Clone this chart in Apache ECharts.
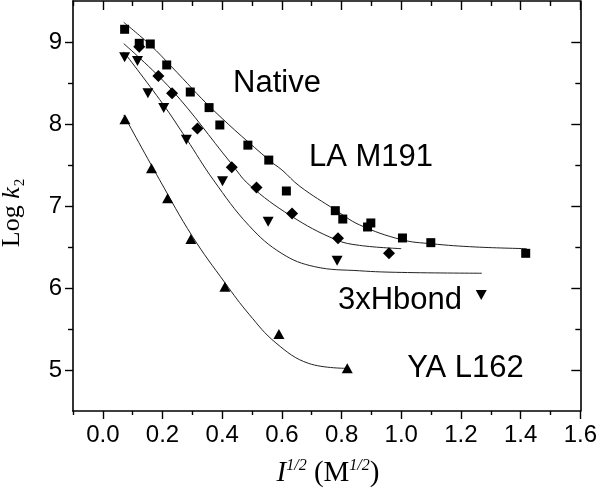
<!DOCTYPE html>
<html><head><meta charset="utf-8">
<script src="https://cdn.jsdelivr.net/npm/echarts@6/dist/echarts.min.js"></script>
<style>html,body{margin:0;padding:0;background:#fff}#c{width:600px;height:495px}</style>
</head><body><div id="c"></div>
<script>
// measured data points (x = I^1/2, y = log k2)
const nativePts = [[0.073,9.155],[0.122,8.984],[0.159,8.976],[0.214,8.72],[0.293,8.39],[0.356,8.2],[0.392,7.988],[0.486,7.742],[0.556,7.56],[0.615,7.183],[0.779,6.943],[0.804,6.841],[0.887,6.744],[0.898,6.793],[1.004,6.61],[1.099,6.553],[1.417,6.423]];
const laPts = [[0.122,8.943],[0.186,8.585],[0.232,8.376],[0.317,7.945],[0.432,7.474],[0.515,7.225],[0.634,6.91],[0.788,6.606],[0.959,6.423]];
const hbondPts = [[0.073,8.813],[0.116,8.768],[0.151,8.374],[0.204,8.195],[0.28,7.808],[0.401,7.302],[0.554,6.809],[0.785,6.333],[1.268,5.915]];
const yaPts = [[0.074,8.057],[0.163,7.46],[0.217,7.094],[0.295,6.598],[0.409,6.016],[0.59,5.439],[0.819,5.02]];

// fitted curves
const nativeFit = [[0.07,9.24],[0.16,8.96],[0.23,8.70],[0.37,8.17],[0.56,7.55],[0.60,7.44],[0.66,7.24],[0.78,6.95],[0.86,6.77],[1.0,6.59],[1.1,6.54],[1.25,6.50],[1.42,6.48]];
const laFit = [[0.07,8.98],[0.23,8.42],[0.43,7.52],[0.49,7.26],[0.63,6.88],[0.78,6.59],[0.86,6.52],[1.0,6.48]];
const hbondFit = [[0.07,8.88],[0.2,8.25],[0.28,7.82],[0.37,7.32],[0.49,6.76],[0.60,6.42],[0.71,6.26],[0.86,6.21],[1.0,6.19],[1.27,6.18]];
const yaFit = [[0.07,8.11],[0.19,7.32],[0.30,6.63],[0.41,6.06],[0.49,5.68],[0.58,5.33],[0.69,5.08],[0.82,5.02]];

const xMajorTicks = [0,0.2,0.4,0.6,0.8,1.0,1.2,1.4,1.6];
const xMinorTicks = [-0.1,0.1,0.3,0.5,0.7,0.9,1.1,1.3,1.5];
const yMajorTicks = [5,6,7,8,9];
const yMinorTicks = [5.5,6.5,7.5,8.5];

const labels = [
  {text:'Native', x:277, y:83.5},
  {text:'LA M191', x:371, y:157},
  {text:'3xHbond', x:400, y:300},
  {text:'YA L162', x:465.5, y:368}
];

const SANS = "'Liberation Sans', Arial, sans-serif";
const SERIF = "'Liberation Serif', 'Times New Roman', serif";
const axLine = {show:true, onZero:false, lineStyle:{color:'#000', width:1.6}};
const noLine = {show:false, onZero:false};
function xAx(pos, ticks, len, inside, withLabels, line){
  return {type:'value', min:-0.1, max:1.6, position:pos, offset:0,
    axisLine: line ? axLine : noLine,
    axisTick:{show:true, customValues:ticks, length:len, inside:inside, lineStyle:{color:'#000', width:1.4}},
    axisLabel: withLabels ? {show:true, customValues:ticks, formatter:v=>v.toFixed(1), fontSize:24, color:'#000', fontFamily:SANS, margin:12} : {show:false},
    splitLine:{show:false}};
}
function yAx(pos, ticks, len, inside, withLabels, line){
  return {type:'value', min:4.5, max:9.5, position:pos, offset:0,
    axisLine: line ? axLine : noLine,
    axisTick:{show:true, customValues:ticks, length:len, inside:inside, lineStyle:{color:'#000', width:1.4}},
    axisLabel: withLabels ? {show:true, customValues:ticks, formatter:v=>String(v), fontSize:24, color:'#000', fontFamily:SANS, margin:11} : {show:false},
    splitLine:{show:false}};
}

const chart = echarts.init(document.getElementById('c'), null, {renderer:'canvas'});
const fitStyle = {color:'#222', width:1};
function fit(d){return {type:'line', data:d, smooth:0.4, showSymbol:false, symbol:'none', lineStyle:fitStyle, silent:true, z:2};}
function pts(d, sym, size, rot){return {type:'scatter', data:d, symbol:sym, symbolSize:size, symbolRotate:rot||0, itemStyle:{color:'#000', opacity:1}, z:3};}

chart.setOption({
  animation:false,
  backgroundColor:'#fff',
  grid:{left:73, right:17, top:1, bottom:84, containLabel:false},
  xAxis:[
    xAx('bottom', xMajorTicks, 8, false, true, true),
    xAx('bottom', xMinorTicks, 4, false, false, false),
    xAx('top', xMajorTicks, 9, true, false, true),
    xAx('top', xMinorTicks, 5, true, false, false)
  ],
  yAxis:[
    yAx('left', yMajorTicks, 8, false, true, true),
    yAx('left', yMinorTicks, 5, false, false, false),
    yAx('right', yMajorTicks, 9, true, false, true),
    yAx('right', yMinorTicks, 5, true, false, false)
  ],
  series:[
    fit(nativeFit), fit(laFit), fit(hbondFit), fit(yaFit),
    pts(nativePts, 'rect', 9),
    pts(laPts, 'diamond', 12),
    pts(hbondPts, 'triangle', [11,10], 180),
    pts(yaPts, 'triangle', [11,10], 0)
  ],
  graphic: labels.map(l => ({type:'text', x:l.x, y:l.y, silent:true,
      style:{text:l.text, fill:'#000', font:'31px '+SANS, align:'center', verticalAlign:'middle', textAlign:'center', textVerticalAlign:'middle'}}))
    .concat([
      {type:'text', x:12, y:213, rotation:Math.PI/2, silent:true,
        style:{text:'{a|Log }{k|k}{s|2}', align:'center', verticalAlign:'middle', textAlign:'center', textVerticalAlign:'middle',
          rich:{a:{fontFamily:SERIF, fontSize:26, fill:'#000', color:'#000', lineHeight:26},
                k:{fontFamily:SERIF, fontSize:26, fontStyle:'italic', fill:'#000', color:'#000', lineHeight:26},
                s:{fontFamily:SERIF, fontSize:15, fill:'#000', color:'#000', lineHeight:15, padding:[16,0,0,1]}}}},
      {type:'text', x:328, y:473, silent:true,
        style:{text:'{i|I}{p|1/2}{a| (M}{p|1/2}{a|)}', align:'center', verticalAlign:'middle', textAlign:'center', textVerticalAlign:'middle',
          rich:{i:{fontFamily:SERIF, fontSize:29, fontStyle:'italic', fill:'#000', color:'#000', lineHeight:29},
                a:{fontFamily:SERIF, fontSize:29, fill:'#000', color:'#000', lineHeight:29},
                p:{fontFamily:SERIF, fontSize:16, fontStyle:'italic', fill:'#000', color:'#000', lineHeight:16, padding:[0,0,14,0]}}}}
    ])
});
</script></body></html>
